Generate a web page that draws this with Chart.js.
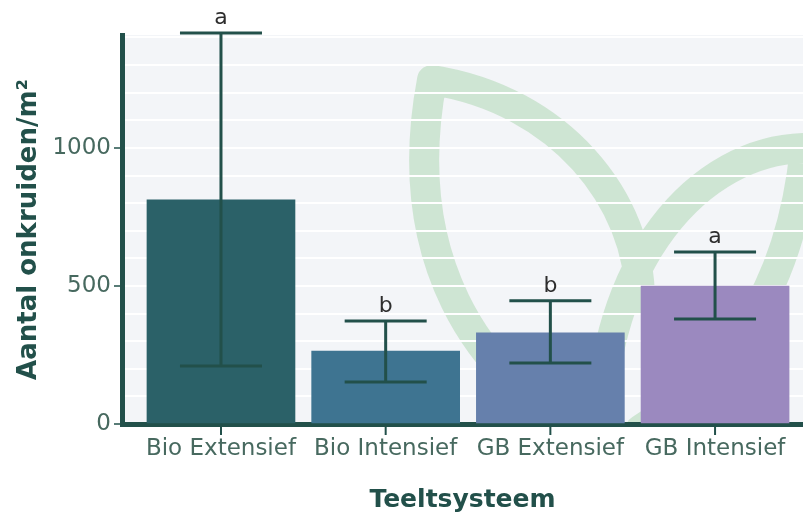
<!DOCTYPE html>
<html>
<head>
<meta charset="utf-8">
<script src="https://cdn.jsdelivr.net/npm/chart.js@4.4.1/dist/chart.umd.min.js"></script>
<style>
  html, body { margin: 0; padding: 0; background: #ffffff; }
  #wrap { width: 803px; height: 519px; }
</style>
</head>
<body>
<div id="wrap"><canvas id="chart" width="803" height="519"></canvas></div>
<script>
// data
const categories = ['Bio Extensief', 'Bio Intensief', 'GB Extensief', 'GB Intensief'];
const means = [812, 264, 330, 500];
const errLow = [210, 152, 221, 380];
const errHigh = [1416, 373, 446, 623];
const letters = ['a', 'b', 'b', 'a'];
const yTickLabels = [0, 500, 1000];

const barColors = ['#2b6168', '#3e7491', '#6680ac', '#9b89bf'];
const darkGreen = '#22504a';
const tickText = '#47695f';

// light grey panel plus the faded leaf logo behind the bars
const panelPlugin = {
    id: 'panel',
    beforeDraw(chart) {
        const ctx = chart.ctx;
        const a = chart.chartArea;
        ctx.save();
        ctx.fillStyle = '#f3f5f8';
        ctx.fillRect(a.left, a.top, a.right - a.left, a.bottom - a.top);

        // watermark leaves
        ctx.beginPath();
        ctx.rect(a.left, a.top, a.right - a.left, a.bottom - a.top);
        ctx.clip();
        ctx.strokeStyle = 'rgba(186, 219, 190, 0.65)';
        ctx.lineWidth = 30;
        ctx.lineCap = 'round';
        ctx.beginPath();
        ctx.moveTo(432, 80);
        ctx.bezierCurveTo(400, 250, 470, 380, 600, 440);
        ctx.moveTo(432, 80);
        ctx.bezierCurveTo(560, 100, 640, 200, 640, 300);
        ctx.moveTo(600, 440);
        ctx.bezierCurveTo(600, 260, 700, 150, 805, 148);
        ctx.moveTo(805, 148);
        ctx.bezierCurveTo(790, 300, 720, 380, 640, 430);
        ctx.stroke();
        ctx.restore();
    }
};

// error bars, letters and the x tick marks from the scales
const errorPlugin = {
    id: 'errorbars',
    afterDatasetsDraw(chart) {
        const ctx = chart.ctx;
        const xs = chart.scales.x;
        const ys = chart.scales.y;
        const base = chart.chartArea.bottom;
        ctx.save();
        categories.forEach((c, i) => {
            const x = xs.getPixelForValue(i);
            const yTop = ys.getPixelForValue(errHigh[i]);
            const yBot = ys.getPixelForValue(errLow[i]);
            const half = 41;
            ctx.strokeStyle = darkGreen;
            ctx.lineWidth = 3;
            ctx.beginPath();
            ctx.moveTo(x, yTop); ctx.lineTo(x, yBot);
            ctx.moveTo(x - half, yTop); ctx.lineTo(x + half, yTop);
            ctx.moveTo(x - half, yBot); ctx.lineTo(x + half, yBot);
            ctx.stroke();

            // tick mark under the axis
            ctx.lineWidth = 2;
            ctx.beginPath();
            ctx.moveTo(x, base + 2);
            ctx.lineTo(x, base + 11);
            ctx.stroke();

            ctx.fillStyle = '#2e2e2e';
            ctx.font = '22px "DejaVu Sans"';
            ctx.textAlign = 'center';
            ctx.textBaseline = 'middle';
            ctx.fillText(letters[i], x, yTop - 15);
        });
        ctx.restore();
    }
};

new Chart(document.getElementById('chart'), {
    type: 'bar',
    data: {
        datasets: [{
            data: categories.map((c, i) => ({ x: i, y: means[i] })),
            backgroundColor: barColors,
            borderWidth: 0,
            barThickness: 148
        }]
    },
    options: {
        responsive: false,
        animation: false,
        layout: { padding: { top: 35, right: 0, left: 0, bottom: 0 } },
        plugins: {
            legend: { display: false },
            tooltip: { enabled: false }
        },
        scales: {
            x: {
                type: 'linear',
                offset: false,
                min: -0.601,
                max: 3.534,
                afterBuildTicks: scale => { scale.ticks = categories.map((c, i) => ({ value: i })); },
                afterFit: scale => { scale.height = 95; },
                border: { color: darkGreen, width: 5 },
                grid: { offset: false, drawOnChartArea: false, drawTicks: true, tickLength: 11, tickColor: 'rgba(0,0,0,0)' },
                ticks: {
                    autoSkip: false,
                    maxRotation: 0,
                    callback: v => categories[v],
                    color: tickText,
                    padding: 0,
                    font: { family: 'DejaVu Sans', size: 23 }
                },
                title: {
                    display: true,
                    text: 'Teeltsysteem',
                    color: darkGreen,
                    font: { family: 'DejaVu Sans', size: 25, weight: 'bold' },
                    padding: { top: 29 }
                }
            },
            y: {
                min: 0,
                max: 1409,
                afterBuildTicks: scale => {
                    const t = [];
                    for (let v = 0; v <= 1400; v += 100) t.push({ value: v });
                    scale.ticks = t;
                },
                afterFit: scale => { scale.width = 122; },
                border: { color: darkGreen, width: 5 },
                grid: {
                    color: '#ffffff',
                    lineWidth: 2,
                    tickLength: 8,
                    tickWidth: 1.5,
                    tickColor: c => yTickLabels.includes(c.tick.value) ? darkGreen : 'rgba(0,0,0,0)'
                },
                ticks: {
                    autoSkip: false,
                    callback: v => yTickLabels.includes(v) ? v : '',
                    color: tickText,
                    padding: 3,
                    font: { family: 'DejaVu Sans', size: 23 }
                },
                title: {
                    display: true,
                    text: 'Aantal onkruiden/m²',
                    color: darkGreen,
                    font: { family: 'DejaVu Sans', size: 26, weight: 'bold' },
                    padding: { top: 14, bottom: 4 }
                }
            }
        }
    },
    plugins: [panelPlugin, errorPlugin]
});
</script>
</body>
</html>
